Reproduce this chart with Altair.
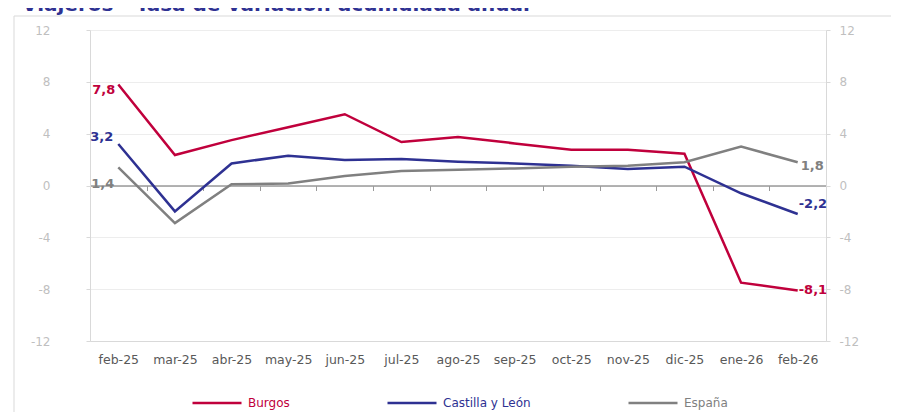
import altair as alt
import pandas as pd

# ---------------- data ----------------
months = ["feb-25", "mar-25", "abr-25", "may-25", "jun-25", "jul-25", "ago-25",
          "sep-25", "oct-25", "nov-25", "dic-25", "ene-26", "feb-26"]
series = ["Burgos", "Castilla y León", "España"]
colors = ["#C0003C", "#2E3192", "#808080"]
burgos = [7.8, 2.35, 3.5, 4.5, 5.5, 3.35, 3.75, 3.25, 2.75, 2.75, 2.45, -7.5, -8.1]
cyl = [3.2, -2.0, 1.7, 2.3, 1.97, 2.04, 1.84, 1.7, 1.53, 1.27, 1.45, -0.6, -2.2]
espana = [1.4, -2.9, 0.1, 0.15, 0.73, 1.12, 1.22, 1.32, 1.45, 1.53, 1.79, 3.0, 1.8]
y_ticks = [-12, -8, -4, 0, 4, 8, 12]
title_text = "Viajeros - Tasa de variación acumulada anual"

rows = []
for s, vals in zip(series, [burgos, cyl, espana]):
    for m, v in zip(months, vals):
        rows.append({"mes": m, "serie": s, "valor": v,
                     "etiqueta": f"{v:.1f}".replace(".", ",")})
df = pd.DataFrame(rows)

# ---------------- style ----------------
W, H = 736, 311
step = W / len(months)
FONT = "DejaVu Sans"
AXIS_GRAY = "#d9d9d9"

yscale = alt.Scale(domain=[-12, 12], nice=False, zero=False)
xscale = alt.Scale(type="point", padding=0.5, domain=months)
cscale = alt.Scale(domain=series, range=colors)

# main lines: bottom labels + left axis with grid + legend
lines = alt.Chart(df).mark_line(strokeWidth=2.5).encode(
    x=alt.X("mes:N", scale=xscale, sort=months, title=None,
            axis=alt.Axis(orient="bottom", ticks=False, domainColor=AXIS_GRAY,
                          labelPadding=12, labelAngle=0, labelFont=FONT,
                          labelFontSize=12.5, labelColor="#595959", grid=False)),
    y=alt.Y("valor:Q", scale=yscale, title=None,
            axis=alt.Axis(orient="left", values=y_ticks, grid=True,
                          gridColor="#ededed", domainColor=AXIS_GRAY,
                          tickColor=AXIS_GRAY, tickSize=4, labelPadding=36,
                          labelExpr="toString(datum.value)",
                          labelFont=FONT, labelFontSize=12, labelColor="#bfbfbf")),
    color=alt.Color("serie:N", scale=cscale, title=None,
                    legend=alt.Legend(orient="none", legendX=101, legendY=347,
                                      direction="horizontal", symbolType="stroke",
                                      symbolSize=2401, symbolStrokeWidth=2.5,
                                      labelFont=FONT, labelFontSize=12,
                                      labelOffset=5, columnPadding=92,
                                      labelColor={"expr": "scale('color', datum.value)"})),
    detail="serie:N",
)

# invisible layer carrying the zero-line axis and the right axis
zero_axis = alt.Chart(df).mark_line(opacity=0).encode(
    x=alt.X("mes:N", scale=xscale, sort=months, title=None,
            axis=alt.Axis(orient="bottom", offset=-H / 2, labels=False,
                          ticks=True, tickSize=5, tickColor="#9a9a9a",
                          domainColor="#9a9a9a", domainWidth=1.5,
                          tickOffset=-step / 2, grid=False)),
    y=alt.Y("valor:Q", scale=yscale, title=None,
            axis=alt.Axis(orient="right", values=y_ticks, grid=False,
                          domainColor=AXIS_GRAY, tickColor=AXIS_GRAY, tickSize=4,
                          labelPadding=9, labelFont=FONT, labelFontSize=12,
                          labelExpr="toString(datum.value)",
                          labelColor="#bfbfbf")),
    detail="serie:N",
)

# data labels (first and last points)
label_specs = [
    ("Burgos", "feb-25", "right", -3, 6),
    ("Castilla y León", "feb-25", "right", -5, -7),
    ("España", "feb-25", "right", -4, 17),
    ("Burgos", "feb-26", "left", 1, 0),
    ("Castilla y León", "feb-26", "left", 1, -10),
    ("España", "feb-26", "left", 3, 4),
]
label_layers = []
for s, m, al, dx, dy in label_specs:
    sub = df[(df["serie"] == s) & (df["mes"] == m)]
    label_layers.append(
        alt.Chart(sub).mark_text(align=al, baseline="middle", dx=dx, dy=dy,
                                 font=FONT, fontSize=13, fontWeight="bold").encode(
            x=alt.X("mes:N", scale=xscale, sort=months, axis=None),
            y=alt.Y("valor:Q", scale=yscale, axis=None),
            color=alt.Color("serie:N", scale=cscale, legend=None),
            text="etiqueta:N",
        )
    )

# light outer frame (chart area border)
frame_df = pd.DataFrame({"k": [0]})
frame_left = alt.Chart(frame_df).mark_rule(color=AXIS_GRAY, strokeWidth=1).encode(
    x=alt.value(-76), y=alt.value(-14), y2=alt.value(H + 90))
frame_top = alt.Chart(frame_df).mark_rule(color=AXIS_GRAY, strokeWidth=1).encode(
    x=alt.value(-76), x2=alt.value(W + 90), y=alt.value(-14))

chart = alt.layer(frame_left, frame_top, zero_axis, lines, *label_layers).resolve_axis(
    x="independent", y="independent"
).properties(
    width=W, height=H,
    autosize=alt.AutoSizeParams(type="none"),
    padding={"left": 82, "top": 22, "right": 65, "bottom": 71},
    title=alt.TitleParams(title_text, anchor="start", frame="group", dx=-68,
                          offset=1, font=FONT, fontSize=20, fontWeight="bold",
                          color="#2E3192"),
).configure_view(stroke=None)

chart.save("out.html", embed_options={"renderer": "svg", "actions": False})
